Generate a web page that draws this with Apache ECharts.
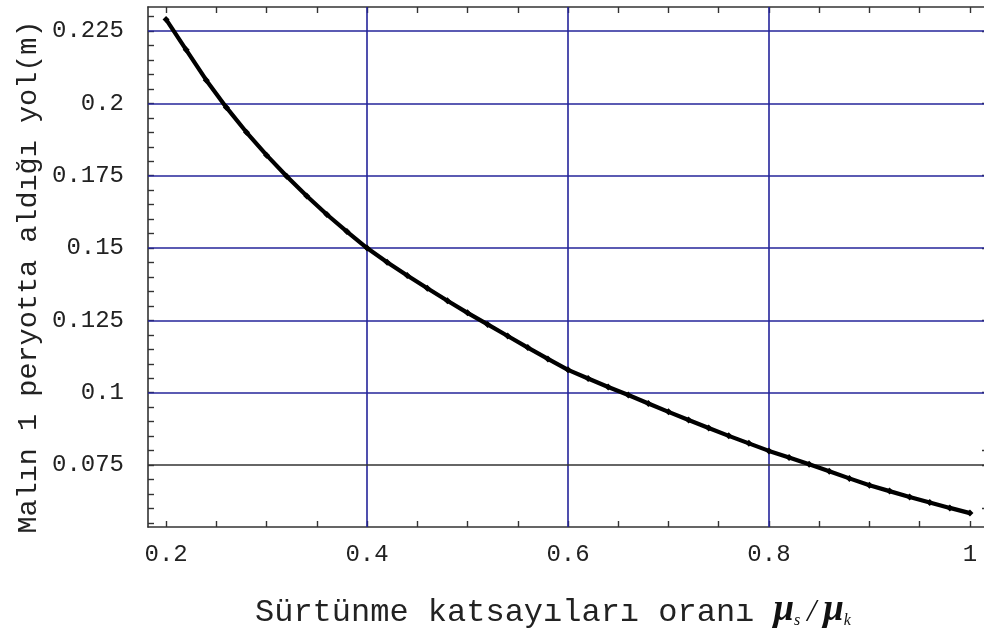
<!DOCTYPE html>
<html><head><meta charset="utf-8">
<script src="https://cdn.jsdelivr.net/npm/echarts@6/dist/echarts.min.js"></script>
<style>html,body{margin:0;padding:0;background:#fff}#c{width:984px;height:637px}</style>
</head><body><div id="c"></div>
<script>
// ---- data ----
const xValues = [0.20,0.22,0.24,0.26,0.28,0.30,0.32,0.34,0.36,0.38,0.40,0.42,0.44,0.46,0.48,0.50,0.52,0.54,0.56,0.58,0.60,0.62,0.64,0.66,0.68,0.70,0.72,0.74,0.76,0.78,0.80,0.82,0.84,0.86,0.88,0.90,0.92,0.94,0.96,0.98,1.00];
const yValues = [0.2290,0.2185,0.2080,0.1986,0.1900,0.1821,0.1748,0.1680,0.1616,0.1557,0.1500,0.1451,0.1405,0.1361,0.1318,0.1276,0.1236,0.1196,0.1156,0.1117,0.1079,0.1049,0.1020,0.0992,0.0963,0.0934,0.0906,0.0878,0.0851,0.0825,0.0799,0.0776,0.0753,0.0729,0.0704,0.0680,0.0660,0.0640,0.0621,0.0602,0.0584];
const xLabelValues = [0.2,0.4,0.6,0.8,1];
const yLabelValues = [0.075,0.1,0.125,0.15,0.175,0.2,0.225];
const xTickValues = [0.2,0.25,0.3,0.35,0.4,0.45,0.5,0.55,0.6,0.65,0.7,0.75,0.8,0.85,0.9,0.95,1.0];
const yTickValues = [0.055,0.06,0.065,0.07,0.075,0.08,0.085,0.09,0.095,0.1,0.105,0.11,0.115,0.12,0.125,0.13,0.135,0.14,0.145,0.15,0.155,0.16,0.165,0.17,0.175,0.18,0.185,0.19,0.195,0.2,0.205,0.21,0.215,0.22,0.225,0.23];
const yRightTickValues = [0.06,0.075,0.08,0.1,0.125,0.15,0.175,0.2,0.225];
const xGridValues = [0.4,0.6,0.8];
const yGridBlue = [0.1,0.125,0.15,0.175,0.2,0.225];
const yGridDark = [0.075];
const xTitle = 'Sürtünme katsayıları oranı ';
const yTitle = 'Malın 1 peryotta aldığı yol(m)';

const MONO = '"Liberation Mono", "Courier New", monospace';
const AX = '#333';
const BLUE = '#24249a';

const fmt = v => String(+(+v).toFixed(4));

const gridLines = []
  .concat(xGridValues.map(v => ({xAxis: v, lineStyle: {color: BLUE, width: 1.6, type: 'solid'}})))
  .concat(yGridBlue.map(v => ({yAxis: v, lineStyle: {color: BLUE, width: 1.6, type: 'solid'}})))
  .concat(yGridDark.map(v => ({yAxis: v, lineStyle: {color: '#333', width: 1.6, type: 'solid'}})));

const chart = echarts.init(document.getElementById('c'), null, {renderer: 'canvas'});
chart.setOption({
  animation: false,
  backgroundColor: '#fff',
  grid: {left: 148, right: -2, top: 7, bottom: 110, containLabel: false, outerBoundsMode: 'none'},
  xAxis: [{
    type: 'value', position: 'bottom', min: 0.182, max: 1.016,
    axisLine: {show: true, onZero: false, lineStyle: {color: AX, width: 1.6}},
    axisTick: {show: true, inside: true, length: 6, customValues: xTickValues, lineStyle: {color: AX, width: 1.4}},
    axisLabel: {show: true, customValues: xLabelValues, formatter: fmt, margin: 16, fontFamily: MONO, fontSize: 24, color: '#222'},
    splitLine: {show: false}
  }, {
    type: 'value', position: 'top', min: 0.182, max: 1.016,
    axisLine: {show: true, onZero: false, lineStyle: {color: AX, width: 1.6}},
    axisTick: {show: true, inside: true, length: 6, customValues: xTickValues, lineStyle: {color: AX, width: 1.4}},
    axisLabel: {show: false},
    splitLine: {show: false}
  }],
  yAxis: [{
    type: 'value', position: 'left', min: 0.0536, max: 0.2333,
    axisLine: {show: true, onZero: false, lineStyle: {color: AX, width: 1.6}},
    axisTick: {show: true, inside: true, length: 6, customValues: yTickValues, lineStyle: {color: AX, width: 1.4}},
    axisLabel: {show: true, customValues: yLabelValues, formatter: fmt, margin: 24, fontFamily: MONO, fontSize: 24, color: '#222'},
    splitLine: {show: false}
  }, {
    type: 'value', position: 'right', min: 0.0536, max: 0.2333,
    axisLine: {show: true, onZero: false, lineStyle: {color: AX, width: 1.6}},
    axisTick: {show: true, inside: true, length: 4, customValues: yRightTickValues, lineStyle: {color: AX, width: 1.4}},
    axisLabel: {show: false},
    splitLine: {show: false}
  }],
  series: [{
    type: 'line', xAxisIndex: 0, yAxisIndex: 0, data: [], z: 1,
    silent: true,
    markLine: {silent: true, precision: 5, symbol: ['none', 'none'], label: {show: false}, animation: false, data: gridLines}
  }, {
    type: 'line', xAxisIndex: 0, yAxisIndex: 0, z: 5,
    data: xValues.map((x, i) => [x, yValues[i]]),
    symbol: 'diamond', symbolSize: 7, showSymbol: true,
    itemStyle: {color: '#000'},
    lineStyle: {color: '#000', width: 4.2},
    silent: true
  }],
  graphic: [{
    type: 'text', x: 28, y: 277, rotation: Math.PI / 2,
    style: {text: yTitle, font: '28.5px ' + MONO, fill: '#222', align: 'center', verticalAlign: 'middle', textAlign: 'center', textVerticalAlign: 'middle'}
  }, {
    type: 'text', x: 255, y: 610,
    style: {
      text: '{a|' + xTitle + '}{m|μ}{s|s}{sl|/}{m|μ}{s|k}',
      align: 'left', verticalAlign: 'middle', textAlign: 'left', textVerticalAlign: 'middle',
      rich: {
        a: {fontFamily: MONO, fontSize: 32, fill: '#222', lineHeight: 38, verticalAlign: 'bottom'},
        m: {fontFamily: '"Liberation Serif", serif', fontSize: 37, fontStyle: 'italic', fontWeight: 'bold', fill: '#111', lineHeight: 38, verticalAlign: 'bottom'},
        s: {fontFamily: '"Liberation Serif", serif', fontSize: 16, fontStyle: 'italic', fill: '#111', lineHeight: 16, verticalAlign: 'bottom', padding: [0, 3, 0, 0]},
        sl: {fontFamily: '"Liberation Serif", serif', fontSize: 32, fontStyle: 'italic', fill: '#111', lineHeight: 38, verticalAlign: 'bottom', padding: [0, 7, 0, 4]}
      }
    }
  }]
});
</script>
</body></html>
